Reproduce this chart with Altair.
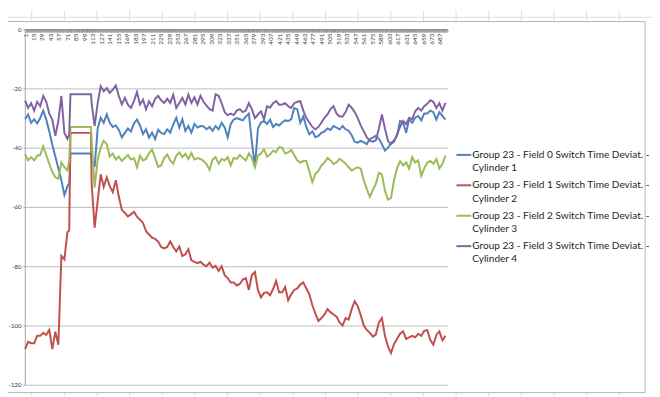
import altair as alt
import pandas as pd

# ---------------- data ----------------
categories = list(range(1, 72, 5)) + [74] + list(range(76, 107, 5)) + [110] + list(range(111, 697, 5))

series_names = [
    "Group 23 - Field 0 Switch Time Deviat. - Cylinder 1",
    "Group 23 - Field 1 Switch Time Deviat. - Cylinder 2",
    "Group 23 - Field 2 Switch Time Deviat. - Cylinder 3",
    "Group 23 - Field 3 Switch Time Deviat. - Cylinder 4",
]
series_colors = ["#4F81BD", "#C0504D", "#9BBB59", "#8064A2"]

field0 = ([-30.4, -28.8, -31.6, -30.4, -31.8, -30.0, -27.5, -30.5, -34.5, -39.0, -43.0, -47.0, -51.0, -56.0, -53.0]
          + [-52.0] + [-42.0] * 7 + [-42.0]
          + [-44.0, -46.5, -33.5, -29.9, -31.6, -28.8, -31.6, -33.0, -32.5, -34.0, -36.5, -35.0, -33.5, -34.5,
             -31.8, -30.5, -32.5, -35.4, -33.8, -36.6, -34.9, -37.1, -34.0, -35.0, -35.4, -33.8, -34.9, -32.1,
             -29.9, -33.2, -30.4, -34.3, -32.7, -34.9, -32.0, -33.2]
          + [-32.7, -32.8, -33.8, -33.0, -34.3, -32.7, -33.8, -31.6, -33.2, -36.5, -32.0, -30.5, -30.0, -30.4,
             -30.8, -29.5, -28.5, -38.0, -46.5, -33.5, -31.5, -31.0, -32.0, -30.5, -33.0, -32.0, -32.5, -31.5,
             -30.8, -31.0, -30.4, -26.6, -27.0, -31.6, -29.5, -33.0, -35.5, -34.5, -36.5, -36.0, -35.0, -34.5,
             -33.5, -34.0, -32.7, -33.2, -33.8, -32.7, -33.8, -34.3, -35.8, -38.0, -38.3, -37.7, -38.2, -38.8,
             -37.1, -36.6, -36.0, -37.0, -38.8, -41.0, -40.0, -38.5, -37.5]
          + [-36.0, -31.0, -31.5, -35.0, -30.4, -31.6, -29.9, -29.3, -30.8, -28.5, -28.5, -27.5, -28.0, -30.5,
             -28.0, -29.3, -30.5])

field1 = ([-108.0, -105.5, -106.0, -106.0, -103.5, -103.5, -102.5, -103.2, -101.5, -108.0, -102.1, -106.5,
           -76.5, -77.7, -68.5]
          + [-68.0] + [-35.0] * 7 + [-35.0]
          + [-52.0, -67.0, -58.0, -49.0, -53.2, -50.0, -53.0, -55.0, -51.0, -56.5, -61.0, -62.0, -63.2, -62.5,
             -61.6, -63.3, -64.3, -65.4, -68.2, -69.3, -70.4, -70.8, -71.7, -73.5, -74.0, -73.5, -71.6, -73.5,
             -75.0, -73.3, -76.6, -76.0, -74.3, -78.0, -78.5, -79.0]
          + [-78.5, -79.5, -80.0, -78.8, -80.5, -79.9, -81.6, -80.0, -83.0, -84.0, -85.5, -85.5, -86.5, -86.0,
             -84.5, -84.0, -88.0, -83.0, -82.0, -88.0, -90.5, -89.0, -88.8, -89.8, -87.7, -85.0, -88.8, -88.8,
             -87.0, -91.5, -89.5, -88.0, -87.5, -86.2, -85.5, -87.5, -89.5, -93.2, -96.0, -98.5, -97.5, -96.3,
             -94.5, -95.5, -96.3, -97.0, -99.0, -100.0, -97.5, -98.0, -94.5, -91.8, -93.5, -96.5, -100.0, -101.5,
             -102.5, -103.8, -103.0, -99.0, -97.5, -103.5, -107.1, -109.3, -106.3]
          + [-104.5, -102.8, -102.0, -104.5, -104.0, -103.5, -104.0, -102.8, -103.5, -101.8, -101.6, -104.9,
             -106.5, -103.2, -102.0, -105.0, -103.5])

field2 = ([-42.1, -44.3, -43.2, -44.3, -42.7, -42.5, -39.5, -42.5, -45.5, -48.2, -50.0, -50.5, -45.0, -46.6, -47.7]
          + [-44.3] + [-33.0] * 7 + [-33.0]
          + [-37.5, -53.5, -44.0, -40.0, -37.7, -38.8, -43.0, -42.0, -44.0, -43.0, -44.5, -43.5, -42.5, -44.0,
             -43.5, -46.6, -42.7, -44.3, -43.8, -41.8, -40.6, -43.5, -46.5, -46.0, -43.5, -42.3, -44.3, -45.4,
             -42.7, -41.6, -43.2, -42.1, -43.8, -41.8, -44.0, -43.5]
          + [-43.8, -44.5, -45.5, -47.5, -44.0, -43.2, -45.4, -43.8, -44.3, -43.2, -46.0, -43.5, -43.8, -42.5,
             -43.5, -44.3, -42.0, -43.5, -46.6, -42.7, -42.0, -40.6, -43.0, -42.3, -41.0, -41.5, -39.8, -40.0,
             -42.0, -41.6, -40.8, -42.5, -44.3, -45.0, -44.5, -44.5, -48.0, -51.6, -48.8, -47.8, -46.0, -45.0,
             -43.5, -44.3, -45.5, -45.0, -43.8, -44.5, -45.4, -46.6, -47.7, -47.1, -46.6, -47.1, -51.0, -54.0,
             -56.6, -54.3, -52.1, -48.5, -49.0, -54.5, -57.5, -57.0, -51.0]
          + [-47.0, -44.5, -46.0, -45.0, -47.1, -43.2, -45.0, -44.3, -49.5, -47.0, -45.0, -44.5, -45.4, -43.8,
             -47.0, -45.5, -42.7])

field3 = ([-24.1, -26.6, -25.0, -27.5, -24.5, -26.0, -22.5, -24.5, -28.5, -30.5, -36.0, -31.0, -22.5, -35.0, -37.0]
          + [-35.5] + [-22.0] * 7 + [-22.0]
          + [-25.0, -32.7, -25.0, -19.3, -21.0, -19.9, -21.5, -20.4, -19.0, -22.5, -25.4, -23.2, -25.5, -26.6,
             -24.3, -21.2, -25.4, -23.8, -27.1, -24.3, -26.0, -23.5, -22.5, -24.0, -24.9, -23.5, -24.9, -22.1,
             -26.6, -24.9, -23.2, -25.4, -22.1, -24.9, -23.0, -25.4]
          + [-22.5, -24.5, -25.8, -27.0, -27.5, -22.0, -22.5, -25.0, -28.0, -29.0, -28.5, -29.0, -27.5, -27.0,
             -28.0, -27.5, -25.0, -27.0, -30.0, -28.8, -27.7, -30.4, -26.0, -26.5, -25.0, -24.3, -25.5, -25.4,
             -25.0, -26.0, -26.6, -25.0, -24.5, -24.3, -27.5, -30.0, -31.5, -33.0, -33.8, -33.0, -31.5, -29.9,
             -28.8, -27.0, -26.0, -28.5, -29.5, -29.5, -28.0, -25.5, -26.5, -28.0, -30.0, -32.5, -34.5, -36.5,
             -37.7, -38.0, -37.5, -33.5, -28.8, -33.5, -37.7, -38.8, -38.0]
          + [-35.5, -33.0, -31.0, -32.0, -29.9, -30.4, -27.7, -26.6, -27.5, -26.0, -25.2, -24.0, -24.5, -26.6,
             -25.0, -27.5, -24.9])

series_values = [field0, field1, field2, field3]
y_ticks = [0, -20, -40, -60, -80, -100, -120]
n_categories = 699

# ---------------- build table ----------------
rows = []
for name, vals in zip(series_names, series_values):
    assert len(vals) == len(categories), (name, len(vals))
    for c, v in zip(categories, vals):
        rows.append({"category": c, "value": v, "series": name})
df = pd.DataFrame(rows)

FONT = "Lato"
PAD_L, PAD_T = 17, 19
W, H = 428, 360


def px(page_x):
    return page_x - 8 - PAD_L


def py(page_y):
    return page_y - 8 - PAD_T


lines = alt.Chart(df).mark_line(strokeWidth=2).encode(
    x=alt.X("category:Q",
            scale=alt.Scale(domain=[0.5, n_categories + 0.5], nice=False, zero=False),
            axis=alt.Axis(orient="bottom", offset=-H, values=list(range(1, n_categories + 1)),
                          labelExpr="(datum.value - 1) % 14 == 0 ? datum.label : ''",
                          format="d", labelAngle=270, labelFont=FONT, labelFontSize=6.5,
                          labelColor="#404040", labelPadding=1, labelOverlap=False,
                          labelFlush=False, labelBound=False, tickSize=3, tickColor="#808080",
                          tickWidth=0.6, domainColor="#868686", grid=False, title=None)),
    y=alt.Y("value:Q",
            scale=alt.Scale(domain=[-120, 0], nice=False),
            axis=alt.Axis(values=y_ticks, grid=True, gridColor="#bdbdbd", gridWidth=1,
                          domainColor="#a6a6a6", tickSize=2, tickColor="#a6a6a6",
                          labelFont=FONT, labelFontSize=6, labelColor="#333333", labelPadding=2,
                          labelExpr="'' + datum.value", title=None)),
    color=alt.Color("series:N", scale=alt.Scale(domain=series_names, range=series_colors), legend=None),
)

one = pd.DataFrame({"d": [0]})


def hrule(y, x1, x2, color, width=1.0):
    return alt.Chart(one).mark_rule(color=color, strokeWidth=width).encode(
        x=alt.value(x1), x2=alt.value(x2), y=alt.value(y))


def vrule(x, y1, y2, color, width=1.0):
    return alt.Chart(one).mark_rule(color=color, strokeWidth=width).encode(
        x=alt.value(x), y=alt.value(y1), y2=alt.value(y2))


# spreadsheet strip & chart border
deco = []
sheet = "#d9dce3"
deco.append(hrule(py(15), px(0), px(660), sheet))
for i in range(19):
    cx = px(32 + 33.05 * i)
    deco.append(vrule(cx, py(8), py(19), sheet))
    deco.append(vrule(cx, py(395), py(399), sheet))
border = "#b4b4b4"
deco.append(hrule(py(19.3), px(0), px(653), border))
deco.append(vrule(px(653), py(19.3), py(395), border))
deco.append(hrule(py(395), px(0), px(653), border))

# legend
legend = []
for i, (name, col) in enumerate(zip(series_names, series_colors)):
    y0 = py(154.3 + i * 30.8)
    cut = name.rindex(" Cylinder")
    first, second = name[:cut], name[cut + 1:]
    legend.append(hrule(y0, px(462), px(477), col, 2))
    legend.append(alt.Chart(one).mark_text(text=first, align="left", baseline="middle", font=FONT,
                                           fontSize=10.2, color="#1f1f1f").encode(
        x=alt.value(px(478)), y=alt.value(y0)))
    legend.append(alt.Chart(one).mark_text(text=second, align="left", baseline="middle", font=FONT,
                                           fontSize=10.2, color="#1f1f1f").encode(
        x=alt.value(px(478)), y=alt.value(y0 + 13.4)))

chart = alt.layer(*deco, lines, *legend).properties(
    width=W, height=H,
    padding={"left": PAD_L, "top": PAD_T, "right": 652 - PAD_L - W, "bottom": 10},
    autosize=alt.AutoSizeParams(type="none"),
    background="white",
).configure_view(stroke=None)

chart.save("out.html", embed_options={"renderer": "svg", "actions": False})
